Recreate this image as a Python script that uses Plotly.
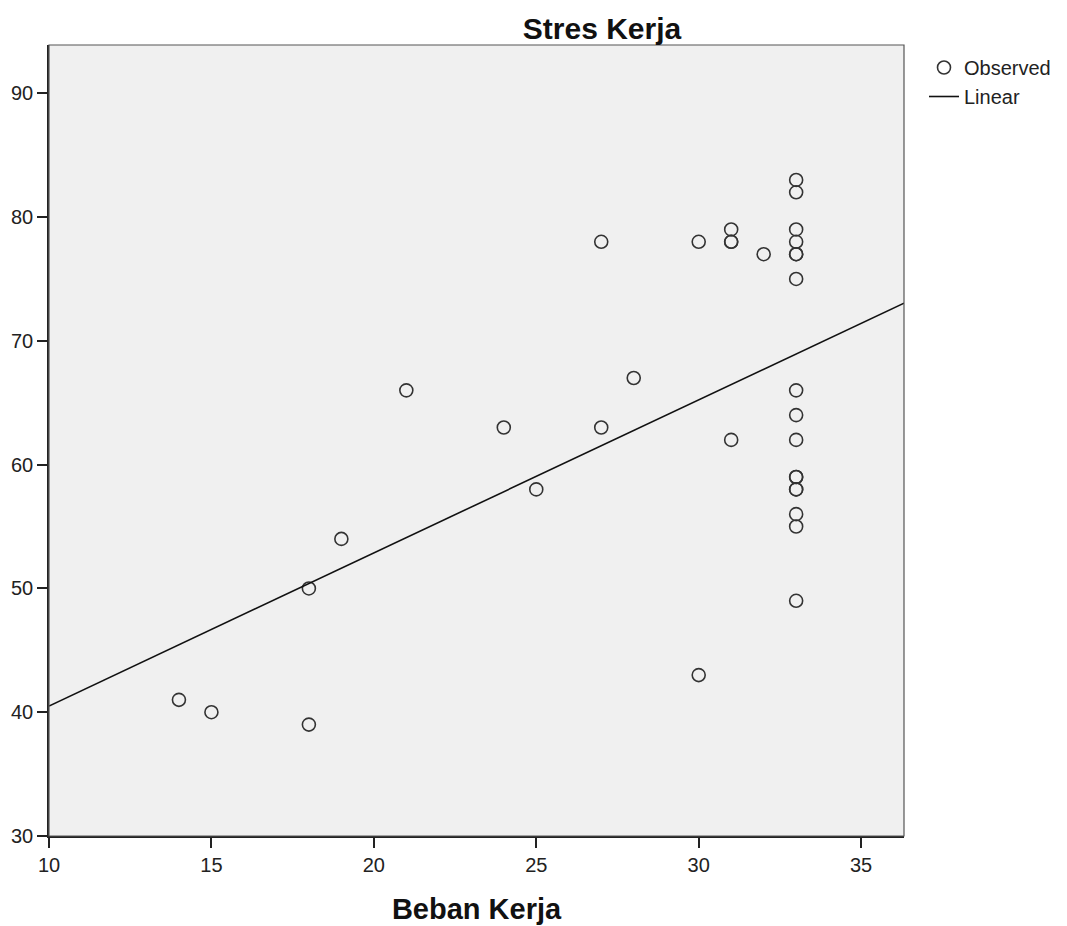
import plotly.graph_objects as go

beban_kerja = [14, 15, 18, 18, 19, 21, 24, 25, 27, 27, 28, 30, 30, 31, 31, 31, 31, 32,
               33, 33, 33, 33, 33, 33, 33, 33, 33, 33, 33, 33, 33, 33, 33, 33, 33]
stres_kerja = [41, 40, 50, 39, 54, 66, 63, 58, 78, 63, 67, 78, 43, 79, 78, 78, 62, 77,
               83, 82, 79, 78, 77, 77, 75, 66, 64, 62, 59, 59, 58, 58, 56, 55, 49]

linear_x = [10, 36.32]
linear_y = [40.5, 73.05]

x_ticks = [10, 15, 20, 25, 30, 35]
y_ticks = [30, 40, 50, 60, 70, 80, 90]

FONT = "Liberation Sans, Arial, sans-serif"

W, H = 1067, 926
# page body has an 8px offset
L, T = 41, 37
PW, PH = 855, 791

fig = go.Figure()
fig.add_trace(go.Scatter(
    x=beban_kerja, y=stres_kerja, mode="markers", name="Observed",
    marker=dict(symbol="circle-open", size=13, color="#333333", line=dict(width=1.6, color="#333333")),
))
fig.add_trace(go.Scatter(
    x=linear_x, y=linear_y, mode="lines", name="Linear",
    line=dict(color="#111111", width=1.6),
))

fig.update_layout(
    width=W, height=H,
    margin=dict(l=L, r=W - L - PW, t=T, b=H - T - PH, autoexpand=False),
    paper_bgcolor="white", plot_bgcolor="#f0f0f0",
    font=dict(family=FONT, size=20, color="#222222"),
    title=dict(text="<b>Stres Kerja</b>", x=(602 - 49) / PW, xref="paper", xanchor="center",
               y=1 - 20 / H, yanchor="middle", font=dict(size=30, color="#111111")),
    showlegend=True,
    legend=dict(x=1 + 20 / PW, y=1 - 3 / PH, xanchor="left", yanchor="top", bgcolor="rgba(0,0,0,0)",
                font=dict(size=20, color="#222222"), tracegroupgap=0, itemwidth=30),
    xaxis=dict(range=[10, 36.32], tickvals=x_ticks, ticks="outside", ticklen=10, tickcolor="#222222",
               tickwidth=1.5,
               showgrid=False, zeroline=False, showline=True, linecolor="#222222", linewidth=1.5,
               tickfont=dict(size=20),
               title=dict(text="<b>Beban Kerja</b>", font=dict(size=29, color="#111111"), standoff=24)),
    yaxis=dict(range=[30, 93.9], tickvals=y_ticks, ticks="outside", ticklen=10, tickcolor="#222222",
               tickwidth=1.5,
               showgrid=False, zeroline=False, showline=True, linecolor="#222222", linewidth=1.5,
               tickfont=dict(size=20)),
)
fig.add_shape(type="rect", xref="paper", yref="paper", x0=0, y0=0, x1=1, y1=1,
              line=dict(color="#555555", width=1.2), fillcolor="rgba(0,0,0,0)", layer="above")

fig.write_html("out.html")
